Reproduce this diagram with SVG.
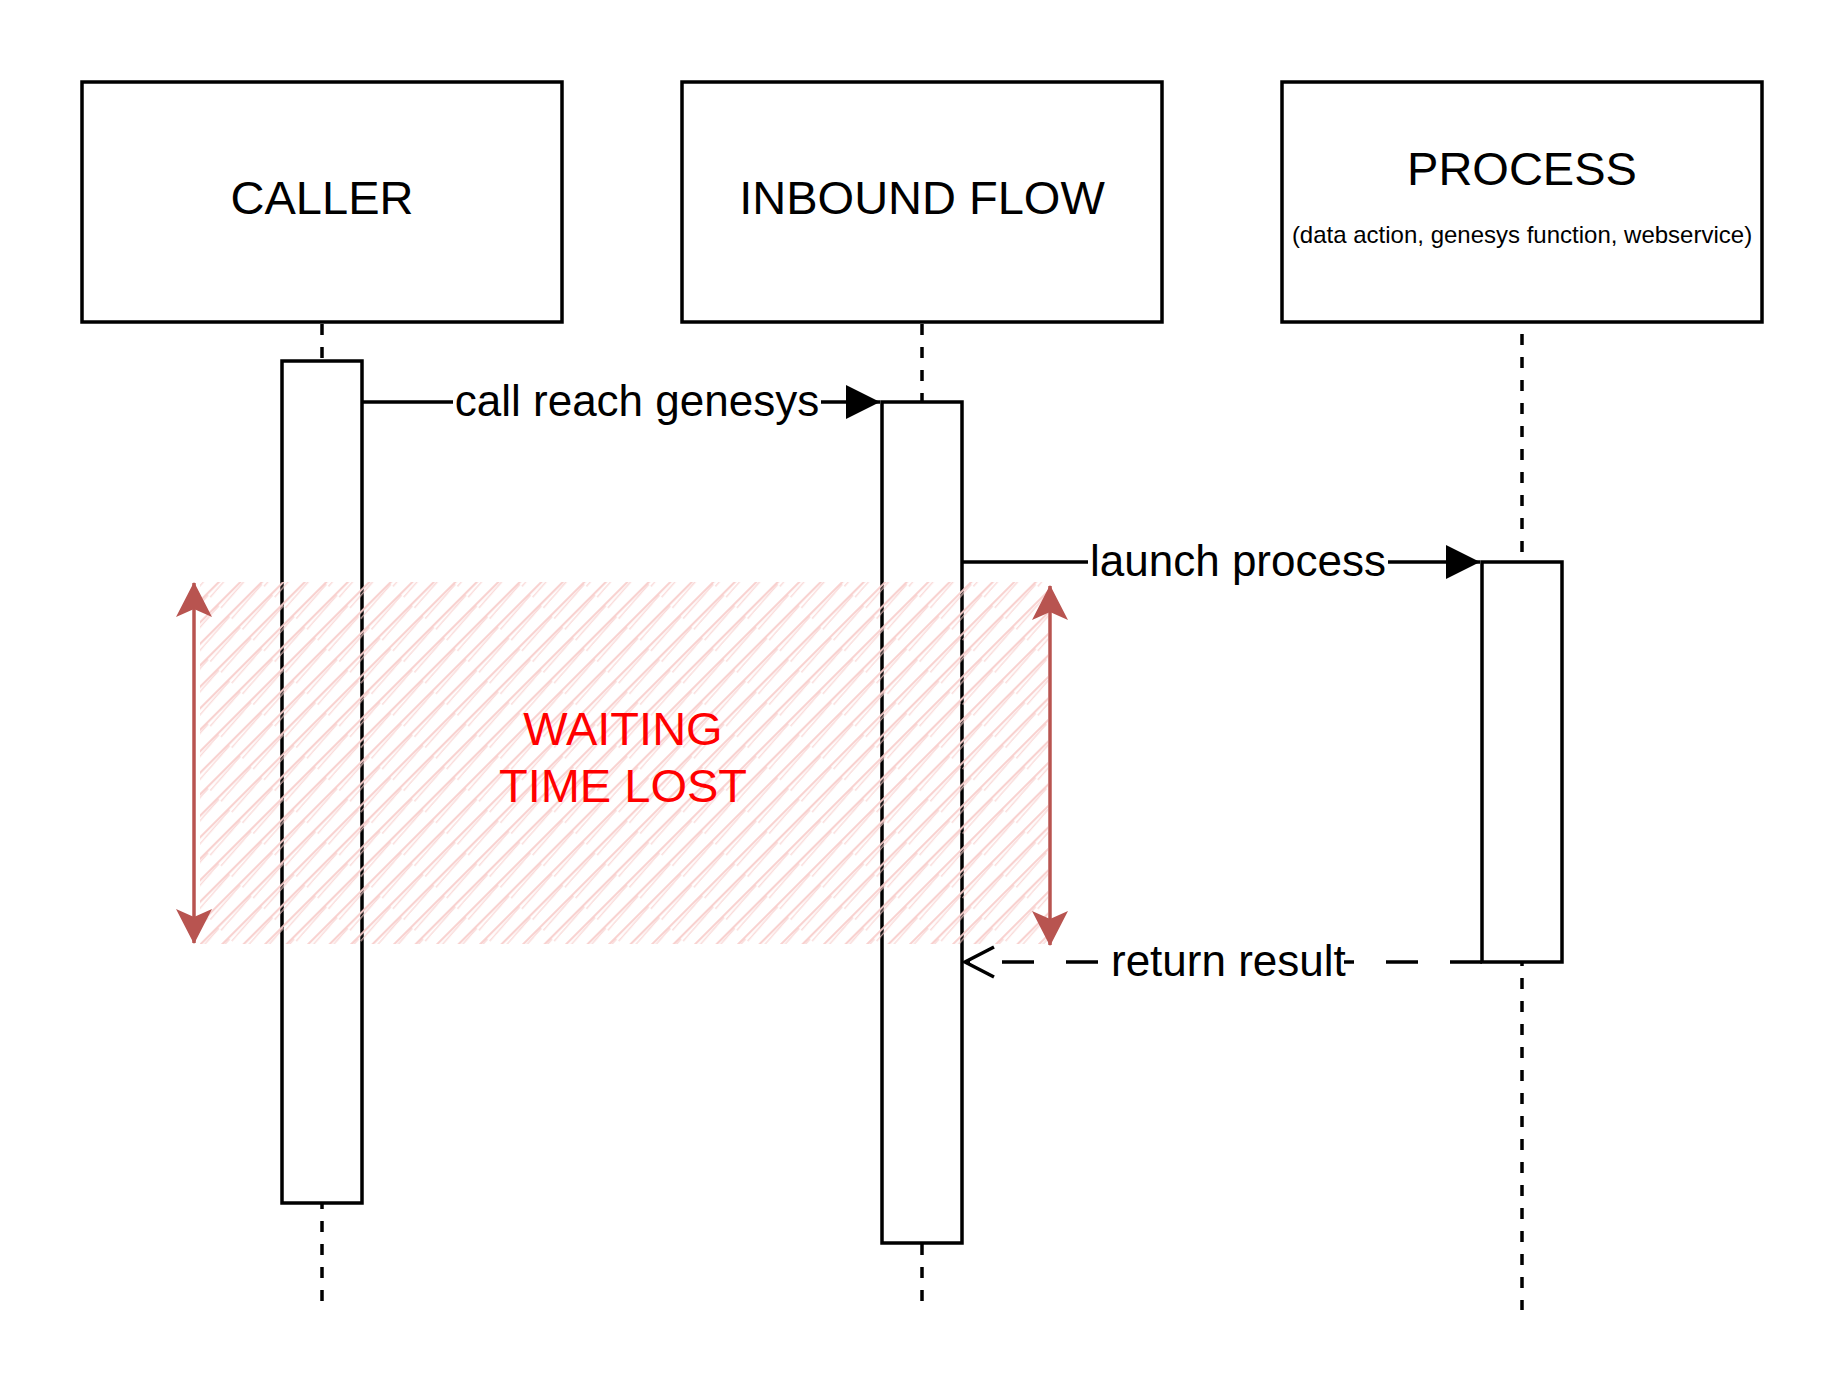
<svg xmlns="http://www.w3.org/2000/svg" width="1844" height="1400" viewBox="0 0 1844 1400">
  <style>
    .box { fill: #ffffff; stroke: #000000; stroke-width: 3.5; }
    .life { fill: none; stroke: #000000; stroke-width: 3.5; stroke-dasharray: 11 12; }
    .msg { fill: none; stroke: #000000; stroke-width: 3.5; }
    .ret { fill: none; stroke: #000000; stroke-width: 3.5; stroke-dasharray: 32 32; }
    .title { font-family: "Liberation Sans", Arial, Helvetica, sans-serif; font-size: 47px; fill: #000000; text-anchor: middle; }
    .sub { font-family: "Liberation Sans", Arial, Helvetica, sans-serif; font-size: 24px; fill: #000000; text-anchor: middle; }
    .lbl { font-family: "Liberation Sans", Arial, Helvetica, sans-serif; font-size: 44px; fill: #000000; }
    .warn { font-family: "Liberation Sans", Arial, Helvetica, sans-serif; font-size: 47px; fill: #ff0000; text-anchor: middle; }
    .span { fill: none; stroke: #b85450; stroke-width: 3.5; }
  </style>
  <defs>
    <marker id="block" markerUnits="userSpaceOnUse" markerWidth="34" markerHeight="34" refX="34" refY="17" orient="auto" overflow="visible">
      <path d="M0,0 L34,17 L0,34 Z" fill="#000000" stroke="none"/>
    </marker>
    <marker id="open" markerUnits="userSpaceOnUse" markerWidth="34" markerHeight="34" refX="30" refY="15" orient="auto" overflow="visible">
      <path d="M1,0 L30,15 L1,30" fill="none" stroke="#000000" stroke-width="3.5" stroke-dasharray="none"/>
    </marker>
    <marker id="redhead" markerUnits="userSpaceOnUse" markerWidth="36" markerHeight="36" refX="34" refY="18" orient="auto-start-reverse" overflow="visible">
      <path d="M0,0 L35,18 L0,36 L8,18 Z" fill="#b85450" stroke="none"/>
    </marker>
    <pattern id="hatch" patternUnits="userSpaceOnUse" width="15.2" height="45.6" patternTransform="rotate(45)">
      <line x1="4" y1="0" x2="4" y2="45.6" stroke="#f8cecc" stroke-width="2"/>
      <line x1="5.5" y1="0" x2="8.5" y2="45.6" stroke="#f8cecc" stroke-width="1.4" opacity="0.75"/>
    </pattern>
  </defs>

  <g id="lifelines">
    <line class="life" x1="322" y1="324" x2="322" y2="1310"/>
    <line class="life" x1="922" y1="324" x2="922" y2="1310"/>
    <line class="life" x1="1522" y1="334" x2="1522" y2="1310"/>
  </g>

  <g id="caller">
    <rect class="box" x="82" y="82" width="480" height="240"/>
    <text class="title" x="322" y="214">CALLER</text>
    <rect class="box" x="282" y="361" width="80" height="842"/>
  </g>

  <g id="inbound-flow">
    <rect class="box" x="682" y="82" width="480" height="240"/>
    <text class="title" x="922" y="214">INBOUND FLOW</text>
    <rect class="box" x="882" y="402" width="80" height="841"/>
  </g>

  <g id="process">
    <rect class="box" x="1282" y="82" width="480" height="240"/>
    <text class="title" x="1522" y="185">PROCESS</text>
    <text class="sub" x="1522" y="243">(data action, genesys function, webservice)</text>
    <rect class="box" x="1482" y="562" width="80" height="400"/>
  </g>

  <g id="connectors">
    <line class="msg" x1="362" y1="402" x2="880" y2="402" marker-end="url(#block)"/>
    <rect x="453" y="378" width="368" height="46" fill="#ffffff"/>
    <text class="lbl" x="637" y="416" text-anchor="middle">call reach genesys</text>

    <line class="msg" x1="962" y1="562" x2="1480" y2="562" marker-end="url(#block)"/>
    <rect x="1088" y="538" width="300" height="46" fill="#ffffff"/>
    <text class="lbl" x="1238" y="576" text-anchor="middle">launch process</text>

    <line class="ret" x1="1482" y1="962" x2="965" y2="962" marker-end="url(#open)"/>
    <rect x="1108" y="938" width="236" height="46" fill="#ffffff"/>
    <text class="lbl" x="1111" y="976">return result</text>
  </g>

  <g id="waiting-zone">
    <rect x="200" y="582" width="848" height="362" fill="url(#hatch)" stroke="none"/>
    <line class="span" x1="194" y1="943" x2="194" y2="583" marker-start="url(#redhead)" marker-end="url(#redhead)"/>
    <line class="span" x1="1050" y1="945" x2="1050" y2="586" marker-start="url(#redhead)" marker-end="url(#redhead)"/>
    <text class="warn" x="623" y="745">WAITING</text>
    <text class="warn" x="623" y="802">TIME LOST</text>
  </g>
</svg>
